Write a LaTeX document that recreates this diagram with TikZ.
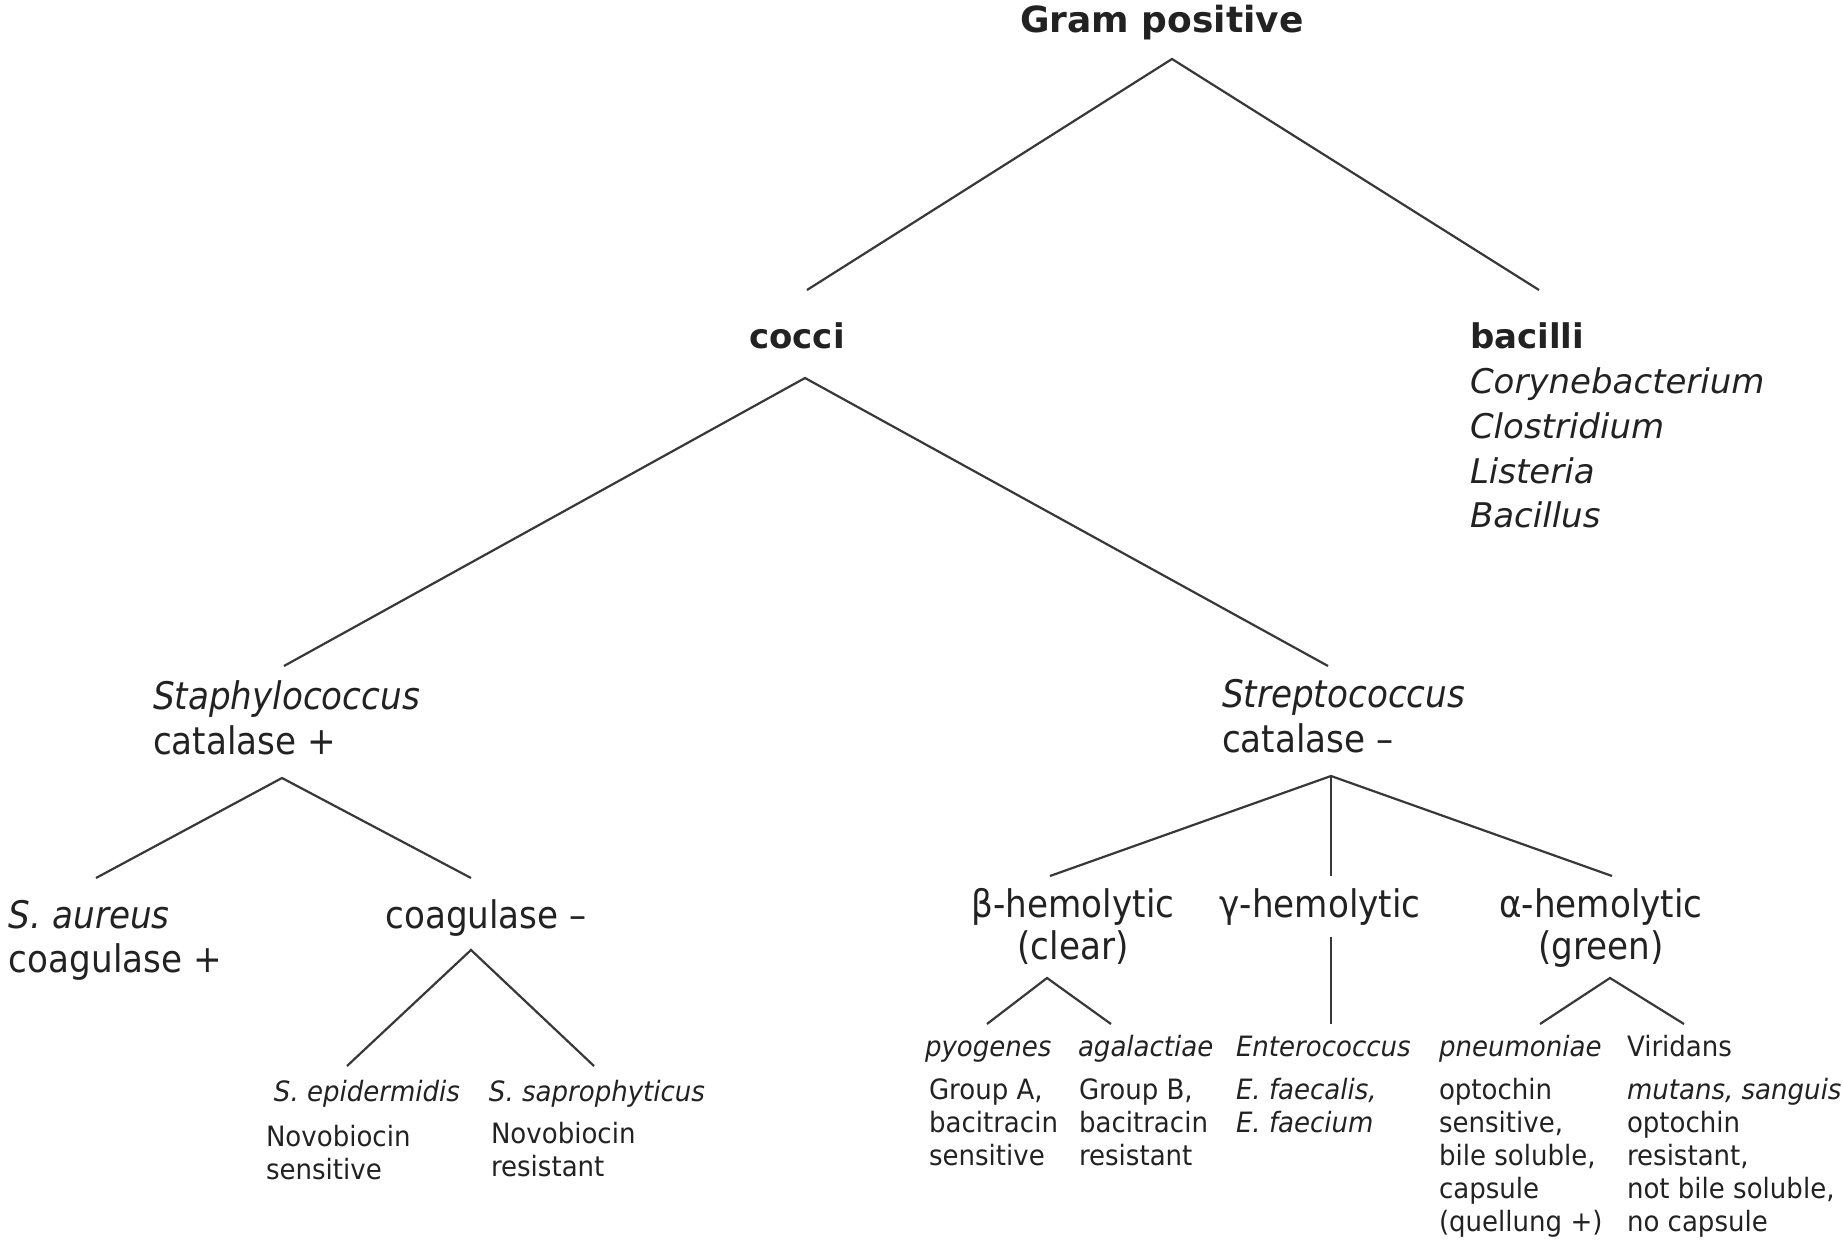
\documentclass[tikz,border=0pt]{standalone}
\usepackage{fontspec}
\setmainfont{DejaVu Sans}
\newfontfamily\mainf[FakeStretch=0.9]{DejaVu Sans}
\newfontfamily\smallf[FakeStretch=0.93]{DejaVu Sans}
\definecolor{ink}{HTML}{222222}
\begin{document}
\begin{tikzpicture}[x=0.5pt,y=-0.5pt,
  every node/.style={inner sep=0pt, outer sep=0pt, text=ink},
  boldtxt/.style={font=\fontsize{17pt}{22.35pt}\selectfont\bfseries},
  bactxt/.style={font=\fontsize{17pt}{22.35pt}\selectfont, align=left},
  maintxt/.style={font=\mainf\fontsize{19pt}{22.35pt}\selectfont, align=left},
  maincen/.style={font=\mainf\fontsize{19pt}{21.2pt}\selectfont, align=center},
  smalltxt/.style={font=\smallf\fontsize{14pt}{16.5pt}\selectfont, align=left},
  branch/.style={draw=ink!90, line width=1.1pt}]
\useasboundingbox (0,0) rectangle (1843,1240);

% nodes (multi-line nodes are anchored at the baseline of their last line)
\node[font=\fontsize{18pt}{22pt}\selectfont\bfseries, anchor=base] (gram) at (1162,33) {Gram positive};
\node[boldtxt, anchor=base] (cocci) at (797,349) {cocci};
\node[bactxt, anchor=base west] (bacilli) at (1470,527.8) {\textbf{bacilli}\\\textit{Corynebacterium}\\\textit{Clostridium}\\\textit{Listeria}\\\textit{Bacillus}};
\node[maintxt, anchor=base west] (staph) at (153,754.7) {\textit{Staphylococcus}\\catalase +};
\node[maintxt, anchor=base west] (strep) at (1222,752.7) {\textit{Streptococcus}\\catalase –};
\node[maintxt, anchor=base west] (aureus) at (9,972.7) {\textit{S. aureus}\\coagulase +};
\node[maintxt, anchor=base] (coagneg) at (486,928) {coagulase –};
\node[smalltxt, anchor=base] (epi) at (367,1101) {\textit{S. epidermidis}};
\node[smalltxt, anchor=base] (sapro) at (597,1101) {\textit{S. saprophyticus}};
\node[smalltxt, anchor=base west] (epid) at (266,1179) {Novobiocin\\sensitive};
\node[smalltxt, anchor=base west] (saprod) at (491,1176) {Novobiocin\\resistant};
\node[maincen, anchor=base] (beta) at (1073,959.4) {β-hemolytic\\(clear)};
\node[maincen, anchor=base] (gamma) at (1320,917) {γ-hemolytic};
\node[maincen, anchor=base] (alpha) at (1601,959.4) {α-hemolytic\\(green)};
\node[smalltxt, anchor=base west] (pyo) at (925,1056) {\textit{pyogenes}};
\node[smalltxt, anchor=base west] (aga) at (1078,1056) {\textit{agalactiae}};
\node[smalltxt, anchor=base west] (ent) at (1236,1056) {\textit{Enterococcus}};
\node[smalltxt, anchor=base west] (pneu) at (1439,1056) {\textit{pneumoniae}};
\node[smalltxt, anchor=base west] (vir) at (1627,1056) {Viridans};
\node[smalltxt, anchor=base west] (pyod) at (929,1165) {Group A,\\bacitracin\\sensitive};
\node[smalltxt, anchor=base west] (agad) at (1079,1165) {Group B,\\bacitracin\\resistant};
\node[smalltxt, anchor=base west] (entd) at (1236,1132) {\textit{E. faecalis,}\\\textit{E. faecium}};
\node[smalltxt, anchor=base west] (pneud) at (1439,1231) {optochin\\sensitive,\\bile soluble,\\capsule\\(quellung +)};
\node[smalltxt, anchor=base west] (vird) at (1627,1231) {\textit{mutans, sanguis}\\optochin\\resistant,\\not bile soluble,\\no capsule};

% connector points
\coordinate (gramA) at (1172,59);
\coordinate (cocciT) at (807,290);
\coordinate (bacT) at (1539,290);
\coordinate (cocciA) at (805,378);
\coordinate (staphT) at (284,666);
\coordinate (strepT) at (1328,666);
\coordinate (staphA) at (282,778);
\coordinate (aureusT) at (96,878);
\coordinate (coagT) at (471,878);
\coordinate (coagA) at (471,950);
\coordinate (epiT) at (347,1066);
\coordinate (saproT) at (594,1066);
\coordinate (strepA) at (1331,776);
\coordinate (betaT) at (1050,876);
\coordinate (gammaT) at (1331,876);
\coordinate (alphaT) at (1612,876);
\coordinate (betaA) at (1047,978);
\coordinate (pyoT) at (987,1024);
\coordinate (agaT) at (1111,1024);
\coordinate (gammaB) at (1331,937);
\coordinate (entT) at (1331,1024);
\coordinate (alphaA) at (1610,978);
\coordinate (pneuT) at (1540,1024);
\coordinate (virT) at (1684,1024);

\draw[branch] (cocciT) -- (gramA) -- (bacT);
\draw[branch] (staphT) -- (cocciA) -- (strepT);
\draw[branch] (aureusT) -- (staphA) -- (coagT);
\draw[branch] (epiT) -- (coagA) -- (saproT);
\draw[branch] (betaT) -- (strepA) -- (alphaT);
\draw[branch] (strepA) -- (gammaT);
\draw[branch] (pyoT) -- (betaA) -- (agaT);
\draw[branch] (gammaB) -- (entT);
\draw[branch] (pneuT) -- (alphaA) -- (virT);
\end{tikzpicture}
\end{document}
